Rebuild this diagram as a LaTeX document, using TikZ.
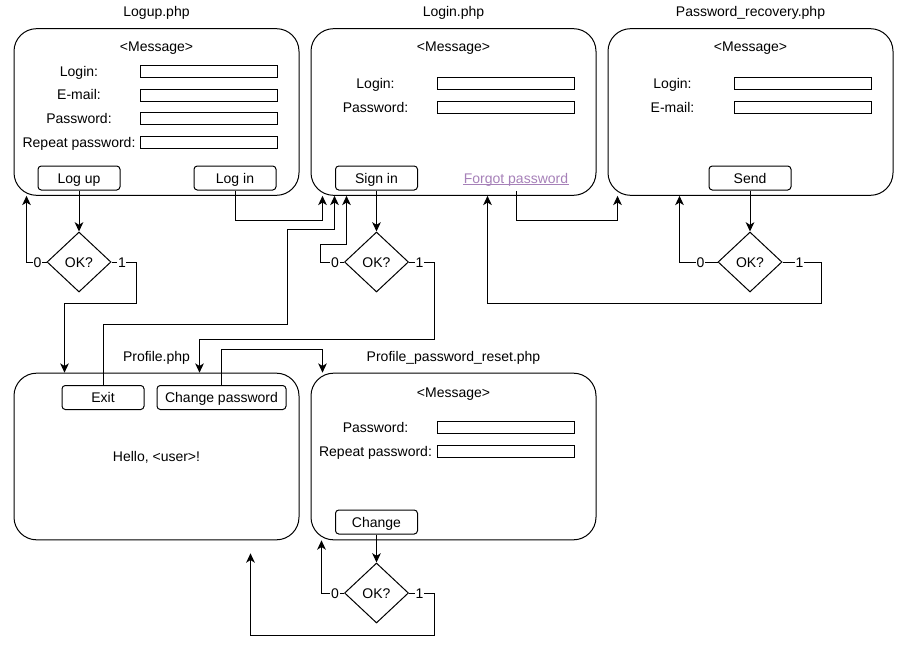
\documentclass[tikz,border=0pt]{standalone}
\usepackage{fontspec}
\setmainfont{Liberation Sans}
\usepackage{tikz}
\usetikzlibrary{arrows.meta}
\usetikzlibrary{calc}
\usetikzlibrary{positioning}
\usetikzlibrary{shapes.geometric}
\definecolor{linkcolor}{RGB}{166,128,184}

\begin{document}
\begin{tikzpicture}[x=0.75pt,y=-0.75pt,node distance=30.75pt,
		font=\fontsize{10.5pt}{12pt}\selectfont,line width=0.75pt,
		every node/.style={text height=10pt,text depth=2.5pt},
		page/.style={draw,rectangle,rounded corners=17pt,minimum width=213.75pt,minimum height=125pt,text height=0pt,text depth=0pt},
		field/.style={draw,rectangle,inner sep=0pt,minimum width=102.75pt,minimum height=9pt,text height=0pt,text depth=0pt},
		button/.style={draw,rectangle,rounded corners=2.5pt,inner sep=0pt,minimum width=61.5pt,minimum height=18pt},
		decision/.style={draw,diamond,inner sep=0pt,minimum width=48pt,minimum height=45pt},
		bit/.style={fill=white,inner sep=0.5pt,text height=7.5pt,text depth=0pt},
		arrow/.style={-{Stealth[length=7pt,width=6.5pt,inset=2pt]}}]
		\useasboundingbox (0,0) rectangle (906,650);

		\node [page] (logup) at (156.5,112) {};
		\node [page] (login) at (453.5,112) {};
		\node [page] (recovery) at (750.5,112) {};
		\node [page] (profile) at (156.5,456.5) {};
		\node [page] (reset) at (453.5,456.5) {};

		\node [above=2.5pt of logup] (logupname) {Logup.php};
		\node [above=2.5pt of login] (loginname) {Login.php};
		\node [above=2.5pt of recovery] (recoveryname) {Password\_recovery.php};
		\node [above=2.5pt of profile] (profilename) {Profile.php};
		\node [above=2.5pt of reset] (resetname) {Profile\_password\_reset.php};

		\node (logupmsg) at (156.5,46) {<Message>};
		\node (lglogin) at (79,71) {Login:};
		\node (lgmail) at (79,94.5) {E-mail:};
		\node (lgpass) at (79,118) {Password:};
		\node (lgrepeat) at (79,142) {Repeat password:};
		\node [field] (lgloginf) at (208.5,71) {};
		\node [field] (lgmailf) at (208.5,95) {};
		\node [field] (lgpassf) at (208.5,118) {};
		\node [field] (lgrepeatf) at (208.5,142) {};
		\node [button] (logupbtn) at (79,178) {Log up};
		\node [button] (loginbtn) at (235,178) {Log in};
		\node [decision,below=of logupbtn] (logupok) {OK?};

		\node (loginmsg) at (453.5,46) {<Message>};
		\node (lilogin) at (375.5,83) {Login:};
		\node (lipass) at (375.5,107) {Password:};
		\node [field] (liloginf) at (505.5,83) {};
		\node [field] (lipassf) at (505.5,107) {};
		\node [button] (signinbtn) at (376.5,178) {Sign in};
		\node [text=linkcolor,inner xsep=0pt] (forgot) at (516,178) {Forgot password};
		\draw [linkcolor,line width=0.6pt] ([yshift=-1pt]forgot.base west) -- ([yshift=-1pt]forgot.base east);
		\node [decision,below=of signinbtn] (loginok) {OK?};

		\node (recoverymsg) at (750.5,46) {<Message>};
		\node (rclogin) at (672.5,83) {Login:};
		\node (rcmail) at (672.5,107) {E-mail:};
		\node [field] (rcloginf) at (802.5,83) {};
		\node [field] (rcmailf) at (802.5,107) {};
		\node [button] (sendbtn) at (750,178) {Send};
		\node [decision,below=of sendbtn] (recoveryok) {OK?};

		\node [button] (exitbtn) at (103,397.5) {Exit};
		\node [button,minimum width=96.75pt] (chpwbtn) at (221.5,397.5) {Change password};
		\node (hello) at (156.5,456) {Hello, <user>!};

		\node (resetmsg) at (453.5,392) {<Message>};
		\node (rspass) at (375.5,427) {Password:};
		\node (rsrepeat) at (375.5,451) {Repeat password:};
		\node [field] (rspassf) at (505.5,427) {};
		\node [field] (rsrepeatf) at (505.5,451) {};
		\node [button] (changebtn) at (376.5,522) {Change};
		\node [decision,below=21pt of changebtn] (resetok) {OK?};
		\coordinate (back) at ($(profile.south west)+(237,13)$);

		\draw [arrow] (logupbtn) -- (logupok);
		\draw [arrow] (logupok.west) -| ($(logup.south west)+(13,0)$);
		\draw [arrow] (logupok.east) -| ++(25,41) -| ($(profile.north west)+(51,0)$);
		\draw [arrow] (loginbtn.south) |- ($(login.south west)+(12,25)$) -- ($(login.south west)+(12,0)$);
		\draw [arrow] (exitbtn.north) -- ++(0,-60.5) -| ++(184,-95) -| ($(login.south west)+(24,0)$);

		\draw [arrow] (signinbtn) -- (loginok);
		\draw [arrow] (loginok.west) -- ++(-24,0) -- ++(0,-18) -| ($(login.south west)+(36,0)$);
		\draw [arrow] (loginok.east) -| ++(25,77) -| ($(profile.north west)+(186,0)$);
		\draw [arrow] (forgot.south) |- ($(recovery.south west)+(10,25)$) -- ($(recovery.south west)+(10,0)$);

		\draw [arrow] (sendbtn) -- (recoveryok);
		\draw [arrow] (recoveryok.west) -| ($(recovery.south west)+(72,0)$);
		\draw [arrow] (recoveryok.east) -| ++(39,41) -| ($(login.south west)+(177,0)$);

		\draw [arrow] (chpwbtn.north) -- ++(0,-36) -| ($(reset.north west)+(12,0)$);
		\draw [arrow] (changebtn) -- (resetok);
		\draw [arrow] (resetok.west) -| ($(reset.south west)+(11,0)$);
		\draw [arrow] (resetok.east) -| ++(25,42) -| (back);

		\node [bit,left=3pt of logupok.west] (logupno) {0};
		\node [bit,right=4pt of logupok.east] (logupyes) {1};
		\node [bit,left=3pt of loginok.west] (loginno) {0};
		\node [bit,right=4pt of loginok.east] (loginyes) {1};
		\node [bit,left=9pt of recoveryok.west] (recoveryno) {0};
		\node [bit,right=9pt of recoveryok.east] (recoveryyes) {1};
		\node [bit,left=3pt of resetok.west] (resetno) {0};
		\node [bit,right=4pt of resetok.east] (resetyes) {1};
	\end{tikzpicture}
\end{document}
